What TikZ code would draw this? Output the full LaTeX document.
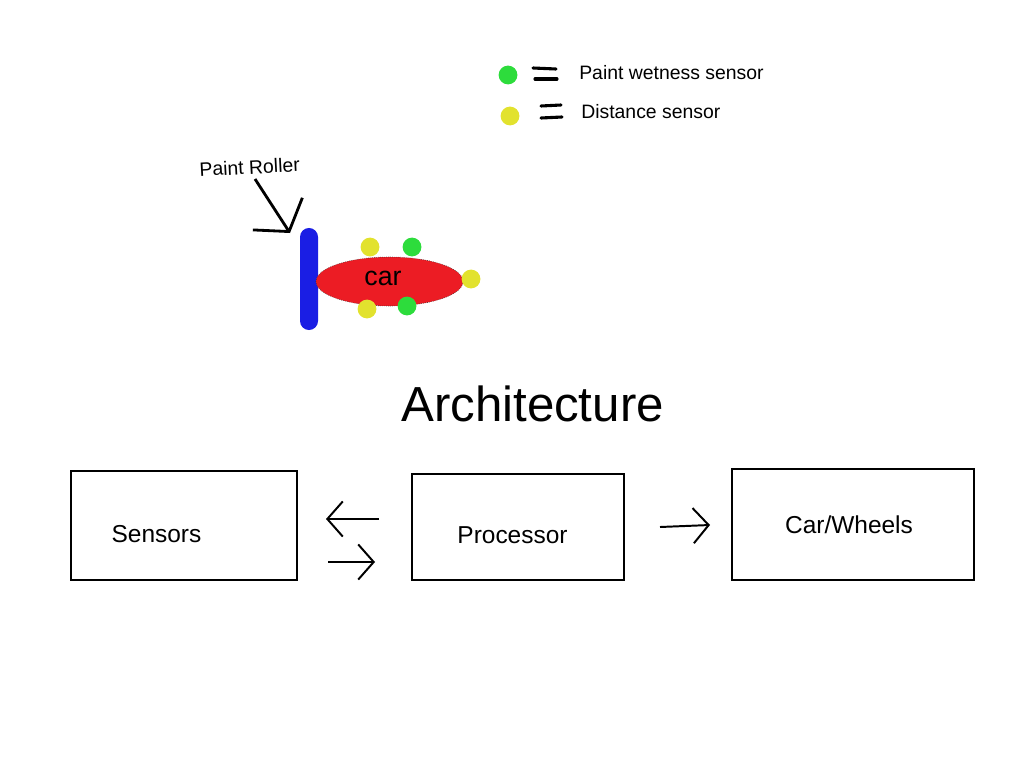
\documentclass[tikz,border=0pt]{standalone}
\usepackage{fontspec}
\setmainfont{Liberation Sans}
\usepackage{tikz}
\usetikzlibrary{shapes.geometric,arrows.meta,positioning}
\definecolor{carred}{RGB}{236,28,36}
\definecolor{rollerblue}{RGB}{26,30,228}
\definecolor{wetgreen}{RGB}{45,220,60}
\definecolor{distyellow}{RGB}{226,226,46}

\begin{document}
\begin{tikzpicture}[x=0.025cm,y=-0.025cm,
    box/.style={draw, line width=1.4pt, inner sep=0},
    dot/.style={circle, inner sep=0, minimum size=0.47cm},
    lbl/.style={inner sep=0, font=\fontsize{17.4}{20}\selectfont},
    small/.style={inner sep=0, font=\fontsize{13.8}{16}\selectfont},
    hand/.style={line width=1.4pt, -{Straight Barb[length=11pt,width=25pt,line width=1.4pt]}},
    eq/.style={line width=2.2pt, line cap=round}]
    \useasboundingbox (0,0) rectangle (1024,768);

    % legend
    \node[dot, fill=wetgreen] (0) at (508,75) {};
    \node[dot, fill=distyellow] (1) at (510,116) {};
    \node[small, anchor=base west] (2) at (579,80) {Paint wetness sensor};
    \node[small, anchor=base west] (3) at (581,119) {Distance sensor};
    \draw[eq] (533,68) -- (556,69);
    \draw[eq] (535,79) -- (557,79);
    \draw[eq] (541,106) -- (561,105);
    \draw[eq] (541,118) -- (562,117);

    % car with roller
    \node[fill=rollerblue, rounded corners=0.225cm, minimum width=0.45cm, minimum height=2.55cm, inner sep=0] (4) at (309,279) {};
    \node[ellipse, draw=black!80, densely dotted, thin, fill=carred, minimum width=3.675cm, minimum height=1.225cm] (5) at (389.5,281.5) {};
    \node[inner sep=0, anchor=base, font=\fontsize{19}{22}\selectfont] (6) at (383,285) {car};
    \node[dot, fill=distyellow] (7) at (370,247) {};
    \node[dot, fill=wetgreen] (8) at (412,247) {};
    \node[dot, fill=distyellow] (9) at (471,279) {};
    \node[dot, fill=distyellow] (10) at (367,309) {};
    \node[dot, fill=wetgreen] (11) at (407,306) {};

    \node[small, anchor=base, rotate=3] (12) at (250,174) {Paint Roller};
    \coordinate (13) at (255,179);
    \coordinate (14) at (290,233);
    \draw[line width=2pt, -{Straight Barb[length=15pt,width=42pt,line width=2pt]}] (13) -- (14);

    % architecture
    \node[inner sep=0, anchor=base, font=\fontsize{35}{40}\selectfont] (15) at (532.5,421) {Architecture};

    \node[box, minimum width=5.65cm, minimum height=2.725cm] (16) at (184,525.5) {};
    \node[lbl, anchor=base] (17) at (156.5,542) {Sensors};
    \node[box, minimum width=5.3cm, minimum height=2.65cm] (18) at (518,527) {};
    \node[lbl, anchor=base] (19) at (512.5,543) {Processor};
    \node[box, minimum width=6.05cm, minimum height=2.775cm] (20) at (853,524.5) {};
    \node[lbl, anchor=base] (21) at (849,533) {Car/Wheels};

    \coordinate (22) at (379,519);
    \coordinate (23) at (326,519);
    \coordinate (24) at (328,562);
    \coordinate (25) at (375,562);
    \coordinate (26) at (660,527);
    \coordinate (27) at (710,525);
    \draw[hand] (22) -- (23);
    \draw[hand] (24) -- (25);
    \draw[hand] (26) -- (27);
\end{tikzpicture}
\end{document}
